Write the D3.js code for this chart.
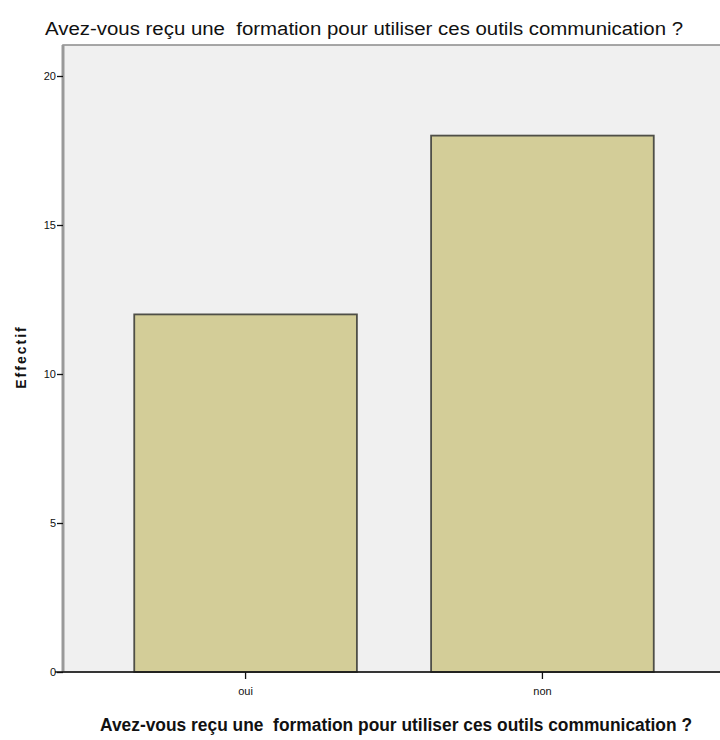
<!DOCTYPE html>
<html>
<head>
<meta charset="utf-8">
<script src="https://cdn.jsdelivr.net/npm/d3@7"></script>
<style>
  body { margin: 0; background: #fff; }
  svg { display: block; }
  text { font-family: "Liberation Sans Narrow", "Arial Narrow", "Liberation Sans", sans-serif; fill: #111; }
  .title { font-size: 18px; }
  .tick text { font-size: 11px; }
  .y-label { font-family: "Liberation Sans", Arial, sans-serif; font-weight: bold; font-size: 14px; letter-spacing: 2px; }
</style>
</head>
<body>
<div id="wrapper"></div>
<script>
  // data
  const categories = ["oui", "non"]
  const counts = [12, 18]
  const yTicks = [0, 5, 10, 15, 20]
  const titleText = "Avez-vous reçu une\u00a0 formation pour utiliser ces outils communication ?"

  const width = 720
  const height = 740
  const plot = { left: 63, right: 725, top: 45, bottom: 672 }

  const svg = d3.select("#wrapper").append("svg")
      .attr("width", width)
      .attr("height", height)

  const xScale = d3.scaleBand()
    .domain(categories)
    .range([plot.left, plot.right])
    .paddingInner(0.25)
    .paddingOuter(0.24)

  const yScale = d3.scaleLinear()
    .domain([0, 20])
    .range([plot.bottom, 76])

  // plot background
  svg.append("rect")
      .attr("x", plot.left)
      .attr("y", plot.top)
      .attr("width", plot.right - plot.left)
      .attr("height", plot.bottom - plot.top)
      .attr("fill", "#f0f0f0")
      .attr("stroke", "#8a8a8a")
      .attr("stroke-width", 1.5)

  // bars
  svg.selectAll(".bar")
      .data(categories)
    .enter().append("rect")
      .attr("class", "bar")
      .attr("x", d => xScale(d))
      .attr("width", xScale.bandwidth())
      .attr("y", (d, i) => yScale(counts[i]))
      .attr("height", (d, i) => yScale(0) - yScale(counts[i]))
      .attr("fill", "#d3cd98")
      .attr("stroke", "#4f4f47")
      .attr("stroke-width", 1.8)

  // y axis
  const yAxis = svg.append("g")
      .attr("transform", `translate(${plot.left},0)`)
      .call(d3.axisLeft(yScale).tickValues(yTicks).tickSize(6).tickPadding(1).tickFormat(d3.format("d")))
  yAxis.select(".domain").attr("stroke", "#999").attr("stroke-width", 3)
    .attr("d", `M0,${plot.top}V${plot.bottom}`)
  yAxis.selectAll(".tick line").attr("stroke", "#111").attr("stroke-width", 1.3)

  // x axis
  const xAxis = svg.append("g")
      .attr("transform", `translate(0,${plot.bottom})`)
      .call(d3.axisBottom(xScale).tickSize(7).tickPadding(8))
  xAxis.select(".domain").attr("stroke", "#111").attr("stroke-width", 1.5)
    .attr("d", `M${plot.left - 8},0H${width}`)
  xAxis.selectAll(".tick line").attr("stroke", "#111").attr("stroke-width", 1.3)

  // titles
  svg.append("text")
      .attr("class", "title")
      .attr("x", 45)
      .attr("y", 35)
      .attr("textLength", 638)
      .attr("lengthAdjust", "spacingAndGlyphs")
      .text(titleText)

  svg.append("text")
      .attr("class", "title")
      .attr("x", 100)
      .attr("y", 731)
      .attr("textLength", 592)
      .attr("lengthAdjust", "spacingAndGlyphs")
      .style("font-weight", "bold")
      .text(titleText)

  svg.append("text")
      .attr("class", "y-label")
      .attr("transform", `translate(26, 357) rotate(-90)`)
      .attr("text-anchor", "middle")
      .text("Effectif")
</script>
</body>
</html>
